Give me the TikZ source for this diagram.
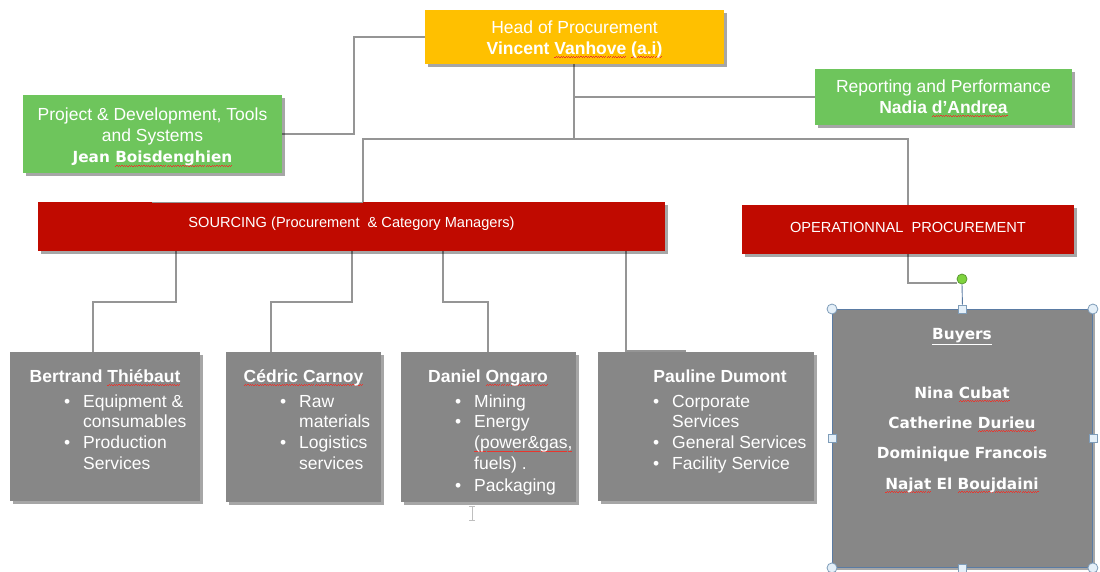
\documentclass[tikz,border=0pt]{standalone}
\usepackage{fontspec}
\setmainfont{Liberation Sans}
\newfontfamily\dv{DejaVu Sans}
\usetikzlibrary{shadows}
\definecolor{headc}{HTML}{FFC000}
\definecolor{greenc}{HTML}{6EC55C}
\definecolor{redc}{HTML}{C00A00}
\definecolor{grayc}{HTML}{878787}
\definecolor{linec}{HTML}{959595}
\definecolor{sqred}{HTML}{E8362E}
\definecolor{handb}{HTML}{7F9DB9}
\definecolor{handf}{HTML}{E4EFF8}
\definecolor{selc}{HTML}{5A7BA3}
\definecolor{rotf}{HTML}{7ED33E}
\definecolor{rotb}{HTML}{5C9A34}
\newcommand\fsz{\fontsize{17.5}{20.7}\selectfont}
\newcommand\fsm{\fontsize{14.6}{17}\selectfont}
\newcommand\fdv{\dv\bfseries\fontsize{15.3}{18}\selectfont}
\newcommand\fr{\rule{0pt}{13pt}}
\newcommand\bul{\llap{\makebox[19pt][l]{\textbullet}}}
\newsavebox\sqbox
\newcommand\sqg[1]{\sbox\sqbox{#1}\rlap{\lower3.4pt\hbox to\wd\sqbox{\color{sqred}\xleaders\hbox{\rule{1.2pt}{0.7pt}\raise0.8pt\hbox{\rule{1.2pt}{0.7pt}}}\hfil}}\usebox\sqbox}
\begin{document}
\begin{tikzpicture}[x=1pt,y=-1pt,
  conn/.style={draw=linec, line width=1.3pt},
  shad/.style={drop shadow={shadow xshift=2.5pt, shadow yshift=-2.5pt, opacity=0.35, fill=black}},
  boxbase/.style={rectangle, anchor=north west, inner sep=0pt, shad},
  headbox/.style={boxbase, fill=headc},
  greenbox/.style={boxbase, fill=greenc},
  redbox/.style={boxbase, fill=redc},
  graybox/.style={boxbase, fill=grayc},
  lbl/.style={inner sep=0pt, text=white, font=\fsz},
  clbl/.style={inner sep=0pt, text=white, font=\fsz, align=center},
  ttl/.style={inner sep=0pt, text=white, font=\fsz\bfseries, anchor=base},
  lst/.style={inner sep=0pt, text=white, font=\fsz, align=left, anchor=north west},
  bname/.style={inner sep=0pt, text=white, font=\fdv, anchor=base},
  handc/.style={circle, draw=handb, fill=handf, line width=0.8pt, minimum size=10pt, inner sep=0pt},
  hands/.style={rectangle, draw=handb, fill=handf, line width=0.8pt, minimum size=8pt, inner sep=0pt},
  ]
\useasboundingbox (0,0) rectangle (1100,571);

% connector coordinates
\coordinate (hbus) at (574,139);
\coordinate (busL) at (363,139);
\coordinate (busR) at (908,139);
\coordinate (s1) at (176,302); \coordinate (d1) at (93,302);
\coordinate (s2) at (352,302); \coordinate (d2) at (271,302);
\coordinate (s3) at (443,302); \coordinate (d3) at (488,302);
\coordinate (s4) at (626,302);

% ---------- connectors ----------
\draw[conn] (574,37) -- (354,37) -- (354,134) -- (282,134);
\draw[conn] (574,64) -- (hbus);
\draw[conn] (574,97) -- (815,97);
\draw[conn] (busL |- 0,205) -- (busL) -- (busR) -- (busR |- 0,205);
\draw[conn] (s1 |- 0,251) -- (s1) -- (d1) -- (d1 |- 0,352);
\draw[conn] (s2 |- 0,251) -- (s2) -- (d2) -- (d2 |- 0,352);
\draw[conn] (s3 |- 0,251) -- (s3) -- (d3) -- (d3 |- 0,352);
\draw[conn] (s4 |- 0,251) -- (s4 |- 0,352);
\draw[conn] (908,254) -- (908,283) -- (957,283);

% ---------- boxes ----------
\node[headbox, minimum width=299pt, minimum height=54pt] (head) at (425,10) {};
\node[clbl] (headt) at (574.5,39.5) {Head of Procurement\\\textbf{Vincent \sqg{Vanhove} \sqg{(a.i)}}};
\node[greenbox, minimum width=259pt, minimum height=78pt] (pdt) at (23,95) {};
\node[clbl] (pdtt) at (152.5,137) {Project \& Development, Tools\\and Systems\\[1pt]{\fdv Jean \sqg{Boisdenghien}}};
\node[greenbox, minimum width=257pt, minimum height=56pt] (rp) at (815,69) {};
\node[clbl] (rpt) at (943.5,98.5) {Reporting and Performance\\\textbf{Nadia \sqg{d’Andrea}}};
\node[redbox, minimum width=627pt, minimum height=49pt] (src) at (38,202) {};
\node[lbl, font=\fsm] (srct) at (351.5,224) {SOURCING (Procurement\ \ \& Category Managers)};
\node[redbox, minimum width=332pt, minimum height=49pt] (ops) at (742,205) {};
\node[lbl, font=\fsm] (opst) at (908,227) {OPERATIONNAL\ \ PROCUREMENT};

\draw[conn] (152,202.5) -- (busL |- 0,202.5);

\node[graybox, minimum width=190pt, minimum height=149pt] (bt) at (10,352) {};
\node[graybox, minimum width=155pt, minimum height=150pt] (cc) at (226,352) {};
\node[graybox, minimum width=175pt, minimum height=150pt] (dog) at (401,352) {};
\node[graybox, minimum width=216pt, minimum height=149pt] (pdm) at (598,352) {};
\draw[conn] (s4 |- 0,351) -- (686,351);

\node[ttl] (btt) at (105,382) {Bertrand \sqg{Thiébaut}};
\node[lst] (btl) at (83,394) {\fr\bul Equipment \&\\consumables\\\bul Production\\Services};
\node[ttl] (cct) at (303.5,382) {\sqg{Cédric Carnoy}};
\node[lst] (ccl) at (299,394) {\fr\bul Raw\\materials\\\bul Logistics\\services};
\node[ttl] (dot) at (488,382) {Daniel \sqg{Ongaro}};
\node[lst] (dol) at (474,394) {\fr\bul Mining\\\bul Energy\\\sqg{(power\&gas,}\\fuels) .\\[1.3pt]\bul Packaging};
\node[ttl] (pdt2) at (720,382) {Pauline Dumont};
\node[lst] (pdl) at (672,394) {\fr\bul Corporate\\Services\\\bul General Services\\\bul Facility Service};

% ---------- buyers (selected shape) ----------
\node[boxbase, fill=grayc, draw=selc, line width=0.9pt, minimum width=260pt, minimum height=258pt] (buy) at (832,309) {};
\node[bname] (buyt) at (962,339) {\underline{Buyers}};
\node[bname] (n1) at (962,398.5) {Nina \sqg{Cubat}};
\node[bname] (n2) at (962,428.5) {Catherine \sqg{Durieu}};
\node[bname] (n3) at (962,458.5) {Dominique Francois};
\node[bname] (n4) at (962,489.5) {\sqg{Najat} El \sqg{Boujdaini}};

\node[circle, draw=rotb, fill=rotf, line width=0.8pt, minimum size=10pt, inner sep=0pt] (rot) at (962,279) {};
\node[hands] (hN) at (buy.north) {};
\draw[draw=selc, line width=0.9pt] (rot.south) -- (hN.north);
\node[hands] (hS) at (buy.south) {};
\node[hands] (hW) at (buy.west) {};
\node[hands] (hE) at (buy.east) {};
\node[handc] (hNW) at (buy.north west) {};
\node[handc] (hNE) at (buy.north east) {};
\node[handc] (hSW) at (buy.south west) {};
\node[handc] (hSE) at (buy.south east) {};

% text cursor
\coordinate (cu1) at (472,506);
\coordinate (cu2) at (472,520);
\draw[draw=black!25, line width=0.8pt] (cu1) -- (cu2) (469,506) -- (475,506) (469,520) -- (475,520);
\end{tikzpicture}
\end{document}
